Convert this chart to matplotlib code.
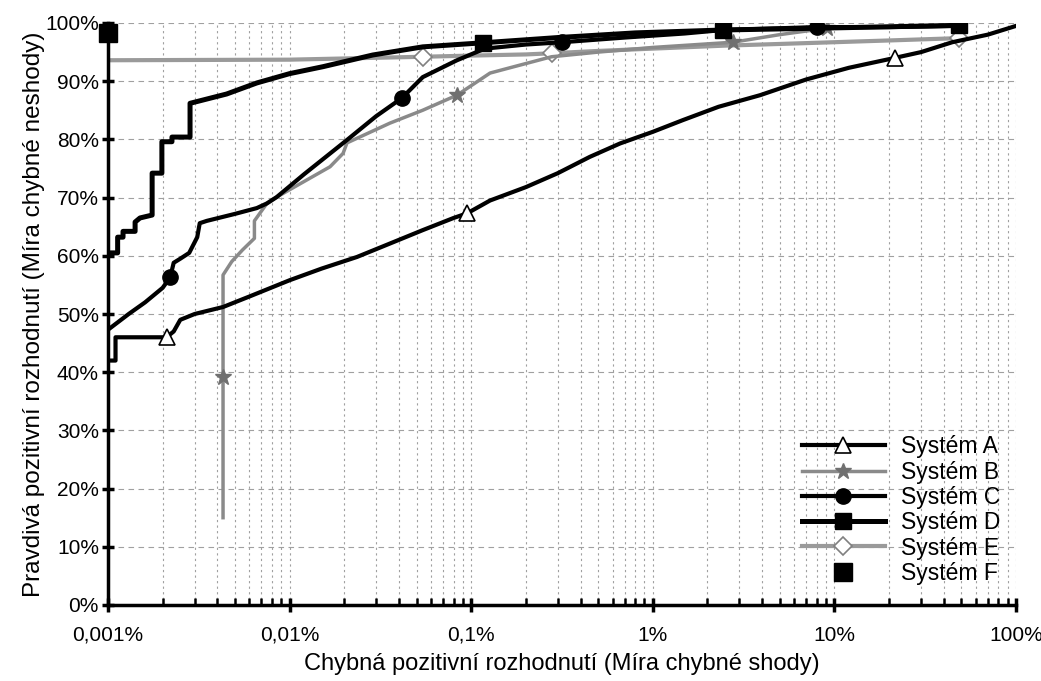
import numpy as np
import matplotlib
matplotlib.use("Agg")
import matplotlib.pyplot as plt
from matplotlib.lines import Line2D
from matplotlib.ticker import FixedLocator, NullFormatter, LogLocator

plt.rcParams['font.family'] = ['Liberation Sans', 'DejaVu Sans']

# false positive rate (%), true positive rate (%)
a_x = [0.001, 0.0011, 0.0011, 0.0021, 0.0023, 0.0025, 0.003, 0.0043, 0.006, 0.01, 0.015, 0.0235,
       0.035, 0.054, 0.08, 0.095, 0.127, 0.2, 0.3, 0.45, 0.66, 1.0, 1.46, 2.3, 3.9, 7.0, 12, 21.5,
       30, 44.6, 70, 100]
a_y = [42, 42, 46, 46, 47, 49, 50, 51.2, 53, 55.8, 57.8, 59.8, 62, 64.4, 66.5, 67.3, 69.5, 71.8,
       74.2, 77, 79.3, 81.3, 83.3, 85.6, 87.6, 90.3, 92.3, 94.0, 95, 96.7, 98, 99.5]
a_marks = [3, 15, 27]

b_x = [0.0043, 0.0043, 0.0043, 0.0048, 0.0055, 0.0064, 0.0064, 0.0075, 0.0085, 0.0167, 0.0197,
       0.0207, 0.0357, 0.054, 0.0835, 0.127, 0.163, 0.277, 0.5, 1.0, 2.77, 5, 9.1, 20, 48.5]
b_y = [15, 39.2, 56.7, 59, 61, 63, 66, 69, 70.1, 75.3, 77.6, 79.4, 82.8, 85, 87.6, 91.4, 92.3,
       94.2, 95, 95.8, 96.7, 98, 99.1, 99.3, 99.5]
b_marks = [1, 14, 20, 22]

c_x = [0.001, 0.00103, 0.0013, 0.0016, 0.002, 0.0022, 0.0023, 0.0025, 0.0028, 0.0031, 0.0032,
       0.0035, 0.005, 0.0066, 0.0075, 0.0085, 0.012, 0.0207, 0.03, 0.0415, 0.0541, 0.0835, 0.119,
       0.2, 0.318, 0.7, 1.5, 2.44, 4, 8.0, 20, 48.5]
c_y = [47.3, 47.6, 50, 52, 54.5, 56.3, 58.8, 59.5, 60.5, 63.2, 65.6, 66, 67.2, 68.2, 69, 70.1, 74,
       79.9, 84, 87.1, 90.7, 93.6, 95.6, 96.3, 96.7, 97.5, 98.2, 98.8, 99, 99.3, 99.3, 99.5]
c_marks = [5, 19, 24, 29]

d_x = [0.001, 0.00113, 0.00113, 0.00121, 0.00121, 0.00141, 0.00141, 0.0015, 0.00175, 0.00175,
       0.00198, 0.00198, 0.00225, 0.00225, 0.00283, 0.00283, 0.0045, 0.0066, 0.01, 0.0153, 0.0287,
       0.0541, 0.116, 0.3, 0.8, 2.44, 8, 48.5]
d_y = [60.5, 60.5, 63.2, 63.2, 64.2, 64.2, 65.8, 66.5, 67, 74.2, 74.2, 79.6, 79.6, 80.4, 80.4,
       86.2, 87.8, 89.7, 91.3, 92.5, 94.5, 95.9, 96.6, 97.5, 98.3, 98.8, 99.1, 99.6]
d_marks = [22, 25, 27]

e_x = [0.001, 0.01, 0.0541, 0.1, 0.2, 0.277, 0.5, 1, 2.44, 5, 10, 20, 48.5]
e_y = [93.6, 93.7, 94.2, 94.4, 94.6, 94.8, 95.2, 95.6, 96.1, 96.4, 96.7, 97, 97.4]
e_marks = [2, 5, 12]

f_x = [0.001]
f_y = [98.3]

systems = ["Systém A", "Systém B", "Systém C", "Systém D", "Systém E", "Systém F"]
x_ticks = [0.001, 0.01, 0.1, 1, 10, 100]
x_labels = ["0,001%", "0,01%", "0,1%", "1%", "10%", "100%"]
y_ticks = list(range(0, 101, 10))
y_labels = [f"{v}%" for v in y_ticks]

styles = {
    "Systém A": dict(color="black", lw=3, marker="^", ms=11, mfc="white", mec="black", mew=1.2),
    "Systém B": dict(color="#8a8a8a", lw=2.5, marker="*", ms=12, mfc="#707070", mec="#707070"),
    "Systém C": dict(color="black", lw=3, marker="o", ms=11, mfc="black", mec="black"),
    "Systém D": dict(color="black", lw=3.6, marker="s", ms=11, mfc="black", mec="black"),
    "Systém E": dict(color="#9a9a9a", lw=3, marker="D", ms=9, mfc="white", mec="#808080", mew=1.2),
    "Systém F": dict(color="black", ls="none", marker="s", ms=13),
}

fig = plt.figure(figsize=(10.41, 6.81), dpi=100)
ax = fig.add_axes([108 / 1041, 1 - 605 / 681, (1016 - 108) / 1041, (605 - 23) / 681])

ax.plot(e_x, e_y, markevery=e_marks, zorder=2, **styles["Systém E"])
ax.plot(b_x, b_y, markevery=b_marks, zorder=3, **styles["Systém B"])
ax.plot(a_x, a_y, markevery=a_marks, zorder=4, **styles["Systém A"])
ax.plot(c_x, c_y, markevery=c_marks, zorder=5, **styles["Systém C"])
ax.plot(d_x, d_y, markevery=d_marks, zorder=6, **styles["Systém D"])
ax.plot(f_x, f_y, zorder=7, clip_on=False, **styles["Systém F"])

ax.set_xscale("log")
ax.set_xlim(0.001, 100)
ax.set_ylim(0, 100)

ax.xaxis.set_major_locator(FixedLocator(x_ticks))
ax.set_xticklabels(x_labels)
ax.xaxis.set_minor_locator(LogLocator(base=10, subs=np.arange(2, 10)))
ax.xaxis.set_minor_formatter(NullFormatter())
ax.yaxis.set_major_locator(FixedLocator(y_ticks))
ax.set_yticklabels(y_labels)

ax.grid(True, which="major", axis="y", color="#a0a0a0", ls=(0, (5, 4)), lw=0.8)
ax.grid(True, which="both", axis="x", color="#a0a0a0", ls=(0, (2, 3)), lw=0.8)

for side in ["top", "right"]:
    ax.spines[side].set_visible(False)
for side in ["left", "bottom"]:
    ax.spines[side].set_linewidth(2.5)

ax.tick_params(axis="y", which="major", direction="inout", length=9, width=2.5, labelsize=15, pad=2)
ax.tick_params(axis="x", which="major", direction="inout", length=10, width=2.5, labelsize=15, pad=10)
ax.tick_params(axis="x", which="minor", direction="in", length=5, width=1.8)

ax.set_xlabel("Chybná pozitivní rozhodnutí (Míra chybné shody)", fontsize=17, labelpad=6)
ax.set_ylabel("Pravdivá pozitivní rozhodnutí (Míra chybné neshody)", fontsize=17.5, labelpad=0)

handles = [Line2D([], [], **styles[s]) for s in systems]
ax.legend(handles, systems, loc="lower right", bbox_to_anchor=(0.995, 0.015), frameon=False,
          fontsize=16.5, handlelength=3.6, numpoints=1, labelspacing=0.1, handletextpad=0.7,
          borderpad=0)

fig.savefig("out.png", dpi=100)
